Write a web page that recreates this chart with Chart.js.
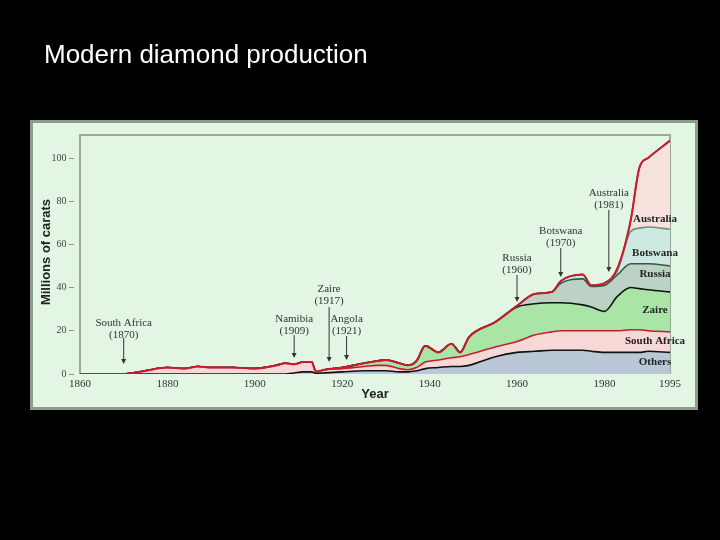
<!DOCTYPE html>
<html><head><meta charset="utf-8">
<script src="https://cdn.jsdelivr.net/npm/chart.js@4.4.0/dist/chart.umd.min.js"></script>
<style>html,body{margin:0;padding:0;background:#000;}#c{display:block;}</style>
</head><body>
<canvas id="c" width="720" height="540"></canvas>
<script>
const years = [1860,1870,1872,1875,1880,1884,1887,1890,1895,1900,1905,1907,1909,1911,1913,1914,1916,1920,1925,1928,1930,1933,1935,1937,1939,1942,1945,1947,1949,1955,1960,1964,1968,1970,1975,1977,1980,1983,1986,1988,1990,1995];
const others =      [0,0,0,0,0,0,0,0,0,0,0,0,0.5,1,1,0.3,0.5,1,1.5,1.5,1.5,1,1,1.5,2.5,3,3.5,3.5,4,8,10,10.5,11,11,11,10.5,10,10,10,10,10.5,10];
const southAfrica = [0,0,0.5,1.5,3,2.5,3.5,3,3,2.5,4,5,4,4.5,4.5,0.7,1.5,1.5,2,2.5,2.5,1.5,1,1.5,3,3.5,4,4.5,5,4.5,5,7.5,8.5,9,9,9.5,10,10,10.5,10.5,9.5,9.5];
const zaire =       [0,0,0,0,0,0,0,0,0,0,0,0,0,0,0,0,0,0.5,1.5,2,2.5,2.5,2,3,7.5,3.5,6.5,2,8,11.5,16,14.5,13.5,13,12,11,9,16,19.5,19,19,18.5];
const russia =      [0,0,0,0,0,0,0,0,0,0,0,0,0,0,0,0,0,0,0,0,0,0,0,0,0,0,0,0,0,0,0.5,4.5,5,9,12,9.5,12,10,11,11.5,12,12];
const botswana =    [0,0,0,0,0,0,0,0,0,0,0,0,0,0,0,0,0,0,0,0,0,0,0,0,0,0,0,0,0,0,0,0,0,1,2,0.5,1,2,15,16.5,17,17];
const australia =   [0,0,0,0,0,0,0,0,0,0,0,0,0,0,0,0,0,0,0,0,0,0,0,0,0,0,0,0,0,0,0,0,0,0,0,0,0,1,5,28,32,41];
const xTicks = [1860,1880,1900,1920,1940,1960,1980,1995];
const yTicks = [0,20,40,60,80,100];
const notes = [
  {year:1870, text:['South Africa','(1870)'], ty:318, a0:338, a1:364},
  {year:1909, text:['Namibia','(1909)'], ty:314, a0:335, a1:358},
  {year:1917, text:['Zaire','(1917)'], ty:284, a0:307, a1:362},
  {year:1921, text:['Angola','(1921)'], ty:314, a0:336, a1:360},
  {year:1960, text:['Russia','(1960)'], ty:253, a0:275, a1:302},
  {year:1970, text:['Botswana','(1970)'], ty:226, a0:248, a1:277},
  {year:1981, text:['Australia','(1981)'], ty:188, a0:210, a1:272}
];
const sideLabels = [['Australia',219],['Botswana',253],['Russia',274],['Zaire',310],['South Africa',341],['Others',362]];
const total = years.map((y,i)=>others[i]+southAfrica[i]+zaire[i]+russia[i]+botswana[i]+australia[i]);

const pts = arr => years.map((y,i)=>({x:y,y:arr[i]}));
function ds(label, arr, bg, border, fill){
  return {label, data:pts(arr), backgroundColor:bg, borderColor:border, borderWidth:1.6, fill, pointRadius:0, cubicInterpolationMode:'monotone'};
}
const bgPlugin = {
  id:'bg',
  beforeDraw(ch){
    const c=ch.ctx; c.save();
    c.fillStyle='#000'; c.fillRect(0,0,720,540);
    c.fillStyle='#e3f6e4'; c.fillRect(30,120,668,290);
    c.strokeStyle='#8c9c8c'; c.lineWidth=3; c.strokeRect(31.5,121.5,665,287);
    c.strokeStyle='#9aa89a'; c.lineWidth=2;
    c.beginPath(); c.moveTo(80,374); c.lineTo(80,135); c.lineTo(670,135); c.lineTo(670,374); c.stroke();
    c.fillStyle='#fff'; c.font='26px "Liberation Sans", Arial, sans-serif'; c.textBaseline='alphabetic';
    c.fillText('Modern diamond production',44,63);
    c.restore();
  },
  afterDraw(ch){
    const c=ch.ctx, xs=ch.scales.x; c.save();
    c.fillStyle='#333'; c.strokeStyle='#333'; c.lineWidth=1;
    c.font='11px "Liberation Serif", "DejaVu Serif", serif'; c.textAlign='center'; c.textBaseline='top';
    notes.forEach(n=>{
      const x=xs.getPixelForValue(n.year);
      c.fillText(n.text[0],x,n.ty); c.fillText(n.text[1],x,n.ty+12);
      c.beginPath(); c.moveTo(x,n.a0); c.lineTo(x,n.a1-4); c.stroke();
      c.beginPath(); c.moveTo(x-2.5,n.a1-5); c.lineTo(x+2.5,n.a1-5); c.lineTo(x,n.a1); c.closePath(); c.fill();
    });
    c.fillStyle='#222'; c.font='bold 11px "Liberation Serif", "DejaVu Serif", serif'; c.textAlign='center'; c.textBaseline='middle';
    sideLabels.forEach(([t,y])=>c.fillText(t,655,y));
    c.font='bold 13px "Liberation Sans", Arial, sans-serif'; c.textAlign='center';
    c.fillText('Year',375,394);
    c.translate(46,252); c.rotate(-Math.PI/2);
    c.fillText('Millions of carats',0,0);
    c.restore();
  }
};
const totalDs = {label:'Total', data:pts(total), yAxisID:'y2', fill:false, borderColor:'#c41e2e', borderWidth:2, pointRadius:0, cubicInterpolationMode:'monotone'};
new Chart(document.getElementById('c'),{
  type:'line',
  data:{datasets:[
    totalDs,
    ds('Others',others,'#b9c7d6','#111','origin'),
    ds('South Africa',southAfrica,'#f6d9d6','#c41e2e','-1'),
    ds('Zaire',zaire,'#a9e6a6','#111','-1'),
    ds('Russia',russia,'#bcd2c4','#2f5a4a','-1'),
    ds('Botswana',botswana,'#cde9e2','#6d8f88','-1'),
    ds('Australia',australia,'#f8e2dd','#c41e2e','-1')
  ]},
  options:{
    responsive:false, animation:false, devicePixelRatio:1,
    layout:{padding:{left:30,right:50,top:135,bottom:140}},
    plugins:{legend:{display:false},tooltip:{enabled:false}},
    scales:{
      x:{type:'linear',min:1860,max:1995,
        afterBuildTicks:s=>{s.ticks=xTicks.map(v=>({value:v}));},
        afterFit:s=>{s.height=26;},
        grid:{display:false,drawTicks:false},border:{display:false},
        ticks:{color:'#333',padding:4,maxRotation:0,autoSkip:false,font:{family:'"Liberation Serif", "DejaVu Serif", serif',size:11},callback:v=>String(v)}},
      y:{stacked:true,min:0,max:110.6,
        afterBuildTicks:s=>{s.ticks=yTicks.map(v=>({value:v}));},
        afterFit:s=>{s.width=50;},
        grid:{display:false,drawTicks:false},border:{display:false},
        ticks:{color:'#444',padding:6,font:{family:'"Liberation Serif", "DejaVu Serif", serif',size:10},callback:v=>v+' –'}},
      y2:{display:false,stacked:false,min:0,max:110.6}
    }
  },
  plugins:[bgPlugin]
});
</script>
</body></html>
